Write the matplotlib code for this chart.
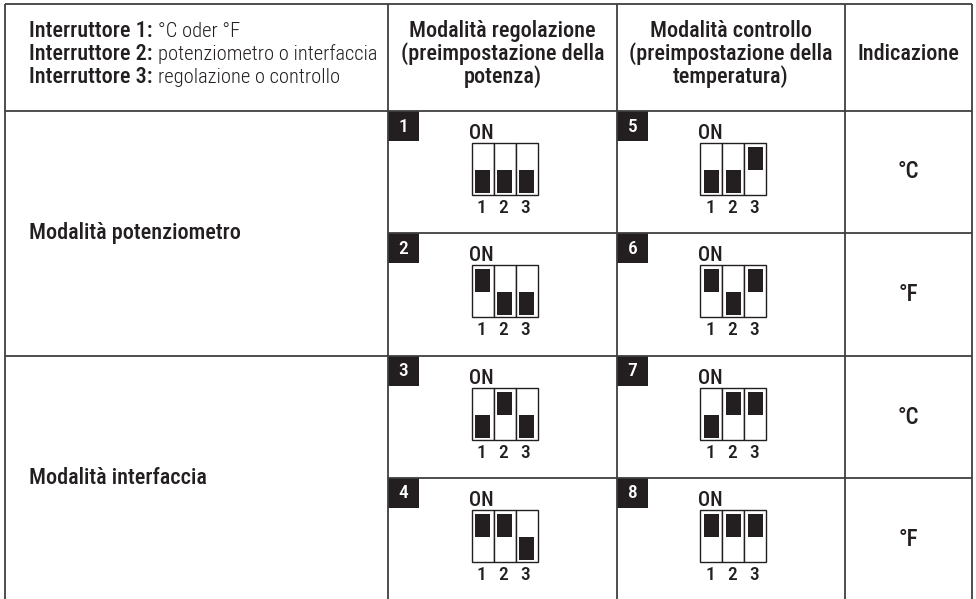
import matplotlib
matplotlib.use("Agg")
import matplotlib.pyplot as plt
from matplotlib.patches import Rectangle

# --- dati della tabella ---
header_left = [("Interruttore 1:", "°C oder °F"),
               ("Interruttore 2:", "potenziometro o interfaccia"),
               ("Interruttore 3:", "regolazione o controllo")]
header_cols = ["Modalità regolazione\n(preimpostazione della\npotenza)",
               "Modalità controllo\n(preimpostazione della\ntemperatura)",
               "Indicazione"]
mode_labels = ["Modalità potenziometro", "Modalità interfaccia"]
indications = ["°C", "°F", "°C", "°F"]
# posizione degli interruttori 1-2-3 (1 = ON, in alto)
numbers_reg = [1, 2, 3, 4]
switches_reg = [[0, 0, 0], [1, 0, 0], [0, 1, 0], [1, 1, 0]]
numbers_ctl = [5, 6, 7, 8]
switches_ctl = [[0, 0, 1], [1, 0, 1], [0, 1, 1], [1, 1, 1]]

family = ["Roboto Condensed", "DejaVu Sans"]
W, H = 976, 599
col_x = [5, 388, 617, 845, 972]
row_y = [4, 111, 233, 356, 478, 600]
ink = "#231f20"
grid = "#3f3f3f"
fs = 16      # testo medio
fs_light = 14.8

fig = plt.figure(figsize=(W / 100, H / 100), dpi=100)
ax = fig.add_axes([0, 0, 1, 1])
ax.set_xlim(0, W)
ax.set_ylim(H, 0)
ax.axis("off")

lw = 1.3
# linee orizzontali (le celle della prima colonna occupano due righe)
for y, full in zip(row_y, [True, True, False, True, False]):
    x0 = col_x[0] if full else col_x[1]
    ax.plot([x0, col_x[-1]], [y, y], color=grid, lw=lw, solid_capstyle="butt")
for x in col_x:
    ax.plot([x, x], [row_y[0], row_y[-1]], color=grid, lw=lw, solid_capstyle="butt")

renderer = fig.canvas.get_renderer()
inv = ax.transData.inverted()
baselines = [37, 60, 83]
for (bold, light), yb in zip(header_left, baselines):
    t = ax.text(29, yb, bold, family=family, weight=500, fontsize=fs,
                color=ink, va="baseline", ha="left")
    bb = t.get_window_extent(renderer)
    xe = inv.transform((bb.x1, 0))[0]
    ax.text(xe + 5, yb, light, family=family, weight=300, fontsize=fs_light,
            color=ink, va="baseline", ha="left")

for i, label in enumerate(header_cols):
    cx = (col_x[i + 1] + col_x[i + 2]) / 2
    lines = label.split("\n")
    ys = [60] if len(lines) == 1 else baselines
    for line, yb in zip(lines, ys):
        ax.text(cx, yb, line, family=family, weight=500, fontsize=fs,
                color=ink, va="baseline", ha="center")

for i, label in enumerate(mode_labels):
    cy = (row_y[1 + 2 * i] + row_y[3 + 2 * i]) / 2
    ax.text(29, cy, label, family=family, weight=500, fontsize=fs,
            color=ink, va="center", ha="left")

for i, ind in enumerate(indications):
    cx = (col_x[3] + col_x[4]) / 2
    cy = (row_y[1 + i] + row_y[2 + i]) / 2
    ax.text(cx, cy, ind, family=family, weight=500, fontsize=16.5,
            color=ink, va="center", ha="center")


def draw_switch(col, row, number, states):
    top = row_y[1 + row]
    left = col_x[col]
    ax.add_patch(Rectangle((left, top), 31, 30, facecolor=ink, edgecolor="none"))
    ax.text(left + 15.5, top + 15.5, str(number), family=family, weight=500,
            fontsize=14, color="white", ha="center", va="center")
    bx = (col_x[col] + col_x[col + 1]) / 2 + 2 - 33
    ax.text(bx - 2, top + 28, "ON", family=family, weight=500, fontsize=14.5,
            color=ink, ha="left", va="baseline")
    for k, s in enumerate(states):
        sx = bx + 22 * k
        ax.add_patch(Rectangle((sx, top + 32), 22, 52, facecolor="white",
                               edgecolor=ink, lw=1.0))
        ky = top + 36 if s else top + 59
        ax.add_patch(Rectangle((sx + 3.5, ky), 15, 23, facecolor=ink,
                               edgecolor="none"))
        ax.text(sx + 10, top + 102, str(k + 1), family=family, weight=500,
                fontsize=14, color=ink, ha="center", va="baseline")


for r in range(4):
    draw_switch(1, r, numbers_reg[r], switches_reg[r])
    draw_switch(2, r, numbers_ctl[r], switches_ctl[r])

fig.savefig("out.png", dpi=100)
